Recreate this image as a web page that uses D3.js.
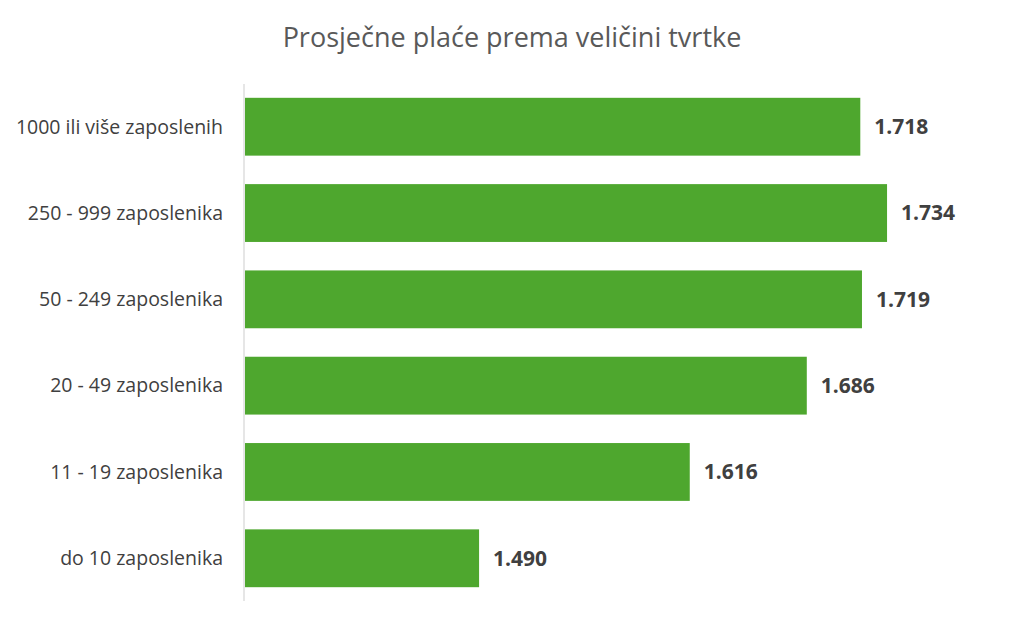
<!DOCTYPE html>
<html>
<head>
<meta charset="utf-8">
<script src="https://cdn.jsdelivr.net/npm/d3@7"></script>
<style>
  body { margin: 0; background: #fff; }
  svg { display: block; font-family: "Open Sans", "Noto Sans", sans-serif; }
</style>
</head>
<body>
<svg id="chart" width="1024" height="627"></svg>
<script>
// data, top to bottom as in the picture
var categories = ['1000 ili više zaposlenih', '250 - 999 zaposlenika', '50 - 249 zaposlenika',
                  '20 - 49 zaposlenika', '11 - 19 zaposlenika', 'do 10 zaposlenika']
var values = [1.718, 1.734, 1.719, 1.686, 1.616, 1.490]
var title = 'Prosječne plaće prema veličini tvrtke'

var svg = d3.select('#chart')
var plotLeft = 244, plotTop = 84, plotBottom = 601

var x = d3.scaleLinear().domain([1.35, 1.8]).range([plotLeft + 1, plotLeft + 1 + 0.45 * 1672])
var y = d3.scaleBand().domain(categories).range([plotTop, plotBottom]).paddingInner(0.33).paddingOuter(0.16)

svg.append('text')
  .attr('x', 512).attr('y', 47)
  .attr('text-anchor', 'middle')
  .attr('font-size', 27)
  .attr('fill', '#595959')
  .text(title)

svg.selectAll('rect.bar')
  .data(values)
  .enter().append('rect')
  .attr('class', 'bar')
  .attr('x', x(1.35))
  .attr('y', function (d, i) { return y(categories[i]) })
  .attr('width', function (d) { return x(d) - x(1.35) })
  .attr('height', y.bandwidth())
  .attr('fill', '#4EA72E')

// axis line
svg.append('line')
  .attr('x1', plotLeft).attr('x2', plotLeft)
  .attr('y1', plotTop).attr('y2', plotBottom)
  .attr('stroke', '#d9d9d9').attr('stroke-width', 1.3)

svg.selectAll('text.cat')
  .data(categories)
  .enter().append('text')
  .attr('class', 'cat')
  .attr('x', 223)
  .attr('y', function (d) { return y(d) + y.bandwidth() / 2 })
  .attr('dy', '0.35em')
  .attr('text-anchor', 'end')
  .attr('font-size', 19.5)
  .attr('fill', '#404040')
  .text(function (d) { return d })

svg.selectAll('text.val')
  .data(values)
  .enter().append('text')
  .attr('class', 'val')
  .attr('x', function (d) { return x(d) + 14 })
  .attr('y', function (d, i) { return y(categories[i]) + y.bandwidth() / 2 })
  .attr('dy', '0.35em')
  .attr('font-size', 21)
  .attr('font-weight', 'bold')
  .attr('fill', '#404040')
  .text(function (d) { return d.toFixed(3) })
</script>
</body>
</html>
